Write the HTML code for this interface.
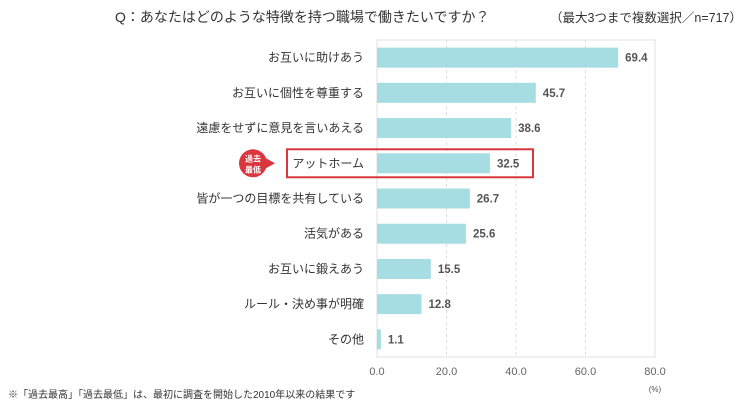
<!DOCTYPE html>
<html><head><meta charset="utf-8"><style>
body{margin:0;width:750px;height:405px;background:#fff;font-family:"Liberation Sans","Noto Sans CJK JP",sans-serif;overflow:hidden}
text{font-family:"Liberation Sans","Noto Sans CJK JP",sans-serif}
</style></head><body>
<svg width="750" height="405" id="s">
<text x="115" y="22" font-size="14" fill="#333">Q：あなたはどのような特徴を持つ職場で働きたいですか？</text>
<text x="742" y="22" font-size="12.5" fill="#333" text-anchor="end">（最大3つまで複数選択／n=717）</text>
<text x="8" y="398" font-size="10" fill="#333">※「過去最高」「過去最低」は、最初に調査を開始した2010年以来の結果です</text>
<text x="655" y="392" font-size="8" fill="#555" text-anchor="middle">(%)</text>
<g id="g"></g>
</svg>
<script>
const categories=["お互いに助けあう","お互いに個性を尊重する","遠慮をせずに意見を言いあえる","アットホーム","皆が一つの目標を共有している","活気がある","お互いに鍛えあう","ルール・決め事が明確","その他"];
const values=[69.4,45.7,38.6,32.5,26.7,25.6,15.5,12.8,1.1];
const ticks=[0,20,40,60,80];
const highlightIndex=3;
const X0=377,X1=655,T=40,B=357,max=80;
const x=v=>X0+(v/max)*(X1-X0);
const step=(B-T)/categories.length;
const y=i=>T+step*(i+0.5);
const g=document.getElementById('g');
const ns='http://www.w3.org/2000/svg';
function mk(t,a){const e=document.createElementNS(ns,t);for(const k in a)e.setAttribute(k,a[k]);g.appendChild(e);return e;}
let r=mk('rect',{x:X0,y:T,width:X1-X0,height:B-T,fill:'none',stroke:'#e0e0e0'});


ticks.forEach(t=>{
 if(t>0&&t<max){let l=mk('line',{x1:x(t),x2:x(t),y1:T,y2:B,stroke:'#ddd','stroke-dasharray':'3,3'});
 
 }
 let tx=mk('text',{x:x(t),y:375,'font-size':11,fill:'#666','text-anchor':'middle'});tx.textContent=t.toFixed(1);
 
 
});
categories.forEach((c,i)=>{
 let b=mk('rect',{x:X0,y:y(i)-10,width:x(values[i])-X0,height:20,fill:'#a5dde3'});
 
 
 let l=mk('text',{x:364,y:y(i)+4,'font-size':12,fill:'#333','text-anchor':'end'});l.textContent=c;
 
 
 let v=mk('text',{x:x(values[i])+7,y:y(i)+4,'font-size':11.5,'font-weight':'bold',fill:'#555'});v.textContent=values[i].toFixed(1);
 
 
});
const hy=y(highlightIndex);
let hb=mk('rect',{x:287,y:hy-14,width:246,height:28,fill:'none',stroke:'#d9363e','stroke-width':2});


let bc=mk('path',{d:`M${253+13} ${hy-5} L${275} ${hy} L${253+13} ${hy+5} Z`,fill:'#d9363e'});


let cc=mk('circle',{cx:253,cy:hy,r:14,fill:'#d9363e'});


[["過去",-2],["最低",9]].forEach(([t,d])=>{let e=mk('text',{x:253,y:hy+d,'font-size':8,'font-weight':'bold',fill:'#fff','text-anchor':'middle'});e.textContent=t;
 
 });
</script>
</body></html>
